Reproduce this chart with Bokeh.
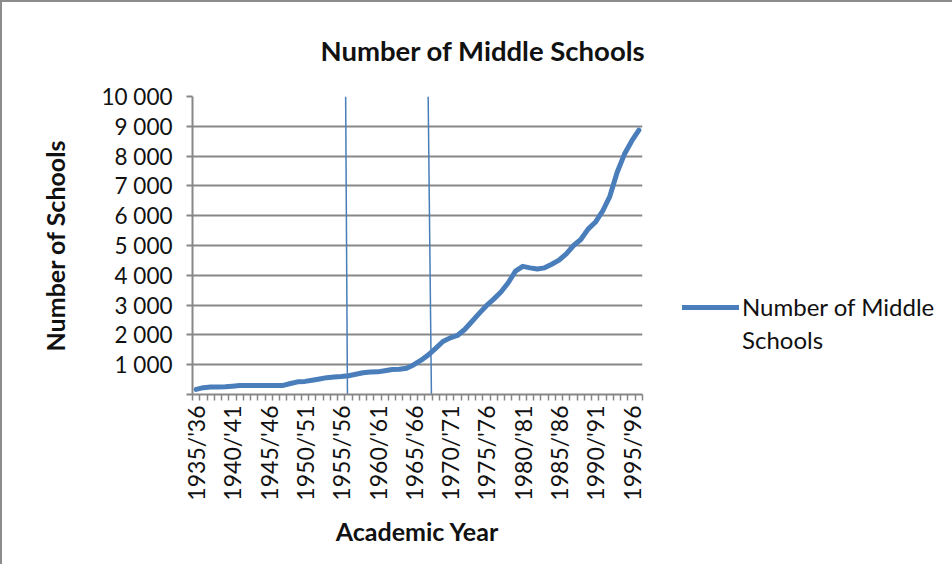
from bokeh.plotting import figure
from bokeh.models import FixedTicker, Legend, LegendItem, Title
from bokeh.embed import file_html
from bokeh.resources import INLINE

# ---- data ----
start_years = list(range(1935, 1997))
categories = [f"{y}/'{(y + 1) % 100:02d}" for y in start_years]
schools = [170, 230, 250, 255, 260, 280, 300, 300, 300, 300,
           300, 300, 305, 370, 425, 440, 480, 520, 565, 590,
           605, 630, 680, 730, 755, 760, 800, 840, 850, 880,
           1000, 1150, 1330, 1550, 1780, 1900, 1980, 2180, 2450, 2720,
           2980, 3200, 3440, 3750, 4140, 4300, 4250, 4210, 4250, 4370,
           4510, 4720, 5000, 5200, 5550, 5780, 6150, 6650, 7450, 8060,
           8500, 8870]
y_ticks = list(range(0, 10001, 1000))
series_label = ["Number of Middle", "Schools"]
# vertical marker lines (category index positions at bottom/top)
marker_x_bottom = [20.85, 32.42]
marker_x_top = [20.6, 31.97]
marker_y_bottom = [0, 0]
marker_y_top = [10000, 10000]

FONT = "Lato"
GRID = "#878787"
BLUE = "#4a7ebb"
TXT = "#111111"

x = list(range(len(categories)))

p = figure(frame_width=450, frame_height=298, output_backend="svg", toolbar_location=None,
           x_range=(-0.5, len(categories) - 0.5), y_range=(0, 10000),
           min_border_left=190, min_border_right=0, min_border_top=94,
           min_border_bottom=170)
p.outline_line_color = None
p.background_fill_color = "white"
p.border_fill_color = "white"
p.styles = {"border-top": "2px solid #8c8c8c", "border-left": "2px solid #8c8c8c"}

p.add_layout(Title(text="Number of Middle Schools", text_font=FONT, text_font_size="27.5px",
                   text_font_style="bold", text_color=TXT, align="left", offset=128,
                   standoff=59), "above")

# axes
p.xgrid.visible = False
p.ygrid.grid_line_color = GRID
p.ygrid.grid_line_width = 2
p.ygrid.ticker = FixedTicker(ticks=y_ticks)

p.yaxis.ticker = FixedTicker(ticks=y_ticks)
p.yaxis.major_label_overrides = {t: ("" if t == 0 else f"{t:,}".replace(",", " ")) for t in y_ticks}
p.yaxis.axis_line_color = GRID
p.yaxis.axis_line_width = 2
p.yaxis.major_tick_line_color = GRID
p.yaxis.major_tick_line_width = 2
p.yaxis.major_tick_out = 6
p.yaxis.major_tick_in = 0
p.yaxis.minor_tick_line_color = None
p.yaxis.major_label_text_font = FONT
p.yaxis.major_label_text_font_size = "22.5px"
p.yaxis.major_label_text_color = TXT
p.yaxis.major_label_standoff = 14
p.yaxis.axis_label = "Number of Schools"
p.yaxis.axis_label_text_font = FONT
p.yaxis.axis_label_text_font_size = "25px"
p.yaxis.axis_label_text_font_style = "bold"
p.yaxis.axis_label_text_color = TXT
p.yaxis.axis_label_standoff = 28

label_idx = [i for i in x if i % 5 == 0]
p.xaxis.ticker = FixedTicker(ticks=label_idx, minor_ticks=[i - 0.5 for i in range(len(categories) + 1)])
p.xaxis.major_label_overrides = {i: categories[i] for i in label_idx}
p.xaxis.major_label_orientation = 3.14159265 / 2
p.xaxis.axis_line_color = GRID
p.xaxis.axis_line_width = 2
p.xaxis.major_tick_line_color = None
p.xaxis.minor_tick_line_color = GRID
p.xaxis.minor_tick_line_width = 1.5
p.xaxis.minor_tick_out = 6
p.xaxis.minor_tick_in = 0
p.xaxis.major_label_text_font = FONT
p.xaxis.major_label_text_font_size = "23px"
p.xaxis.major_label_text_color = TXT
p.xaxis.major_label_standoff = 5
p.xaxis.axis_label = "Academic Year"
p.xaxis.axis_label_text_font = FONT
p.xaxis.axis_label_text_font_size = "25px"
p.xaxis.axis_label_text_font_style = "bold"
p.xaxis.axis_label_text_color = TXT
p.xaxis.axis_label_standoff = 12

# marker lines
p.segment(x0=marker_x_bottom, y0=marker_y_bottom, x1=marker_x_top, y1=marker_y_top,
          line_color=BLUE, line_width=1.5)

r = p.line(x, schools, line_color=BLUE, line_width=5, line_join="round", line_cap="round")

legend = Legend(items=[LegendItem(label=series_label[0], renderers=[r]),
                       LegendItem(label=series_label[1], renderers=[])],
                location=(40, 40), glyph_width=57, glyph_height=28, label_standoff=3,
                spacing=4, padding=0, margin=0, border_line_color=None,
                background_fill_alpha=0, label_height=28,
                label_text_font=FONT, label_text_font_size="24px", label_text_color=TXT)
p.add_layout(legend, "right")

open("out.html", "w").write(file_html(p, INLINE))
